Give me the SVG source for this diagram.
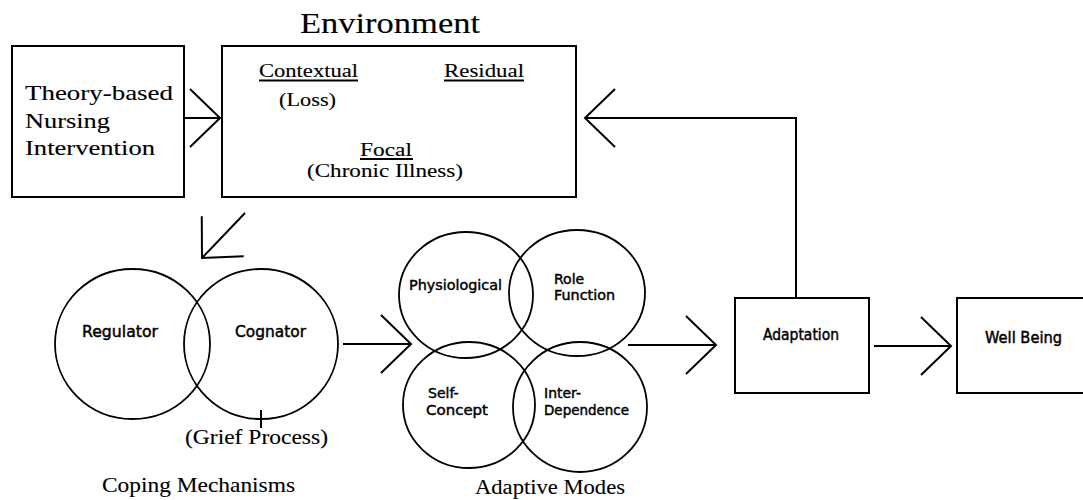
<svg xmlns="http://www.w3.org/2000/svg" width="1083" height="500" viewBox="0 0 1083 500">
<defs>
<marker id="chev" markerUnits="userSpaceOnUse" markerWidth="80" markerHeight="80" viewBox="-40 -40 80 80" refX="0" refY="0" orient="auto" overflow="visible">
<path d="M-30,-29 L0,0 L-30,29" fill="none" stroke="#000" stroke-width="2"/>
</marker>
<style>
.box{fill:#fff;stroke:#000;stroke-width:2}
.circ{fill:none;stroke:#000;stroke-width:1.8}
.ln{fill:none;stroke:#000;stroke-width:2}
.serif{font-family:"Liberation Serif","Times New Roman",serif;fill:#000;stroke:#000;stroke-width:0.12}
.sans{font-family:"DejaVu Sans","Liberation Sans",sans-serif;fill:#000;stroke:#000;stroke-width:0.45}
</style>
</defs>
<rect width="1083" height="500" fill="#fff"/>

<g id="connectors">
<line class="ln" x1="184" y1="118" x2="220" y2="118" marker-end="url(#chev)"/>
<line class="ln" x1="245" y1="213" x2="202" y2="258" marker-end="url(#chev)"/>
<line class="ln" x1="343" y1="344" x2="411" y2="344" marker-end="url(#chev)"/>
<line class="ln" x1="628" y1="345" x2="716" y2="345" marker-end="url(#chev)"/>
<line class="ln" x1="874" y1="346" x2="951" y2="346" marker-end="url(#chev)"/>
<path class="ln" d="M796,298 V118 H585" marker-end="url(#chev)"/>
</g>

<g id="theory">
<rect class="box" x="12" y="46" width="172" height="151"/>
<text class="serif" font-size="22" x="25" y="100" textLength="148" lengthAdjust="spacingAndGlyphs">Theory-based</text>
<text class="serif" font-size="22" x="25" y="128" textLength="85" lengthAdjust="spacingAndGlyphs">Nursing</text>
<text class="serif" font-size="22" x="25" y="155" textLength="130" lengthAdjust="spacingAndGlyphs">Intervention</text>
</g>

<g id="environment">
<text class="serif" font-size="30" x="300" y="33" textLength="180" lengthAdjust="spacingAndGlyphs">Environment</text>
<rect class="box" x="222" y="46" width="354" height="151"/>
<text class="serif" font-size="19" x="259" y="77" textLength="99" lengthAdjust="spacingAndGlyphs">Contextual</text>
<line class="ln" x1="259" y1="80.5" x2="358" y2="80.5" stroke-width="1.6"/>
<text class="serif" font-size="19" x="279" y="106" textLength="57" lengthAdjust="spacingAndGlyphs">(Loss)</text>
<text class="serif" font-size="19" x="444" y="77" textLength="80" lengthAdjust="spacingAndGlyphs">Residual</text>
<line class="ln" x1="444" y1="80.5" x2="524" y2="80.5" stroke-width="1.6"/>
<text class="serif" font-size="19" x="360" y="156" textLength="52" lengthAdjust="spacingAndGlyphs">Focal</text>
<line class="ln" x1="360" y1="159" x2="413" y2="159" stroke-width="1.6"/>
<text class="serif" font-size="19" x="307" y="177" textLength="156" lengthAdjust="spacingAndGlyphs">(Chronic Illness)</text>
</g>

<g id="coping-mechanisms">
<g id="regulator">
<ellipse class="circ" cx="132.5" cy="344" rx="77.5" ry="75"/>
<text class="sans" font-size="15" x="82" y="337" textLength="76" lengthAdjust="spacingAndGlyphs">Regulator</text>
</g>
<g id="cognator">
<ellipse class="circ" cx="261" cy="344" rx="77" ry="75"/>
<text class="sans" font-size="15" x="235" y="337" textLength="71" lengthAdjust="spacingAndGlyphs">Cognator</text>
<line class="ln" x1="261" y1="410" x2="261" y2="428"/>
<text class="serif" font-size="22" x="185" y="444" textLength="143" lengthAdjust="spacingAndGlyphs">(Grief Process)</text>
</g>
<text class="serif" font-size="22" x="102" y="492" textLength="193" lengthAdjust="spacingAndGlyphs">Coping Mechanisms</text>
</g>

<g id="adaptive-modes">
<g id="physiological">
<ellipse class="circ" cx="466" cy="295" rx="67" ry="63"/>
<text class="sans" font-size="14" x="409" y="290" textLength="93" lengthAdjust="spacingAndGlyphs">Physiological</text>
</g>
<g id="role-function">
<ellipse class="circ" cx="577" cy="293" rx="68" ry="63"/>
<text class="sans" font-size="14" x="554" y="284">Role</text>
<text class="sans" font-size="14" x="554" y="300" textLength="61" lengthAdjust="spacingAndGlyphs">Function</text>
</g>
<g id="self-concept">
<ellipse class="circ" cx="469" cy="405" rx="66" ry="63"/>
<text class="sans" font-size="14" x="428" y="398">Self-</text>
<text class="sans" font-size="14" x="426" y="415" textLength="62" lengthAdjust="spacingAndGlyphs">Concept</text>
</g>
<g id="interdependence">
<ellipse class="circ" cx="580" cy="407" rx="67" ry="65"/>
<text class="sans" font-size="14" x="544" y="398">Inter-</text>
<text class="sans" font-size="14" x="544" y="415" textLength="85" lengthAdjust="spacingAndGlyphs">Dependence</text>
</g>
<text class="serif" font-size="22" x="475" y="494" textLength="150" lengthAdjust="spacingAndGlyphs">Adaptive Modes</text>
</g>

<g id="adaptation">
<rect class="box" x="735" y="298" width="134" height="95"/>
<text class="sans" font-size="15" x="763" y="340" textLength="76" lengthAdjust="spacingAndGlyphs">Adaptation</text>
</g>

<g id="well-being">
<rect class="box" x="957" y="298" width="140" height="95"/>
<text class="sans" font-size="15" x="985" y="343" textLength="77" lengthAdjust="spacingAndGlyphs">Well Being</text>
</g>
</svg>
